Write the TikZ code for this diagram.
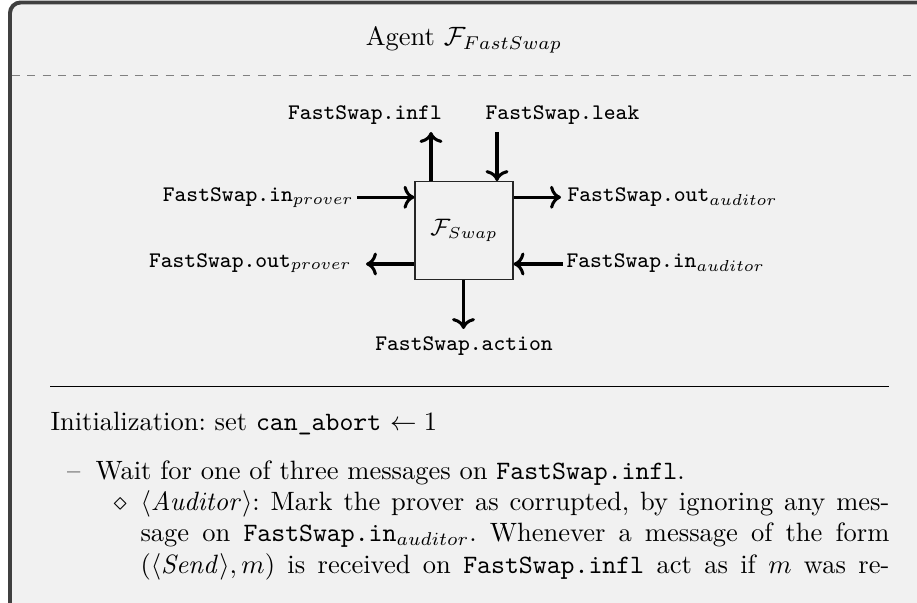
\documentclass[tikz,border=0pt]{standalone}
\usetikzlibrary{arrows.meta}
\definecolor{bgc}{HTML}{F1F1F1}
\definecolor{framec}{HTML}{404040}
\tikzset{
  lab/.style={font=\fontsize{8.4pt}{10pt}\selectfont, inner sep=0pt},
  arr/.style={->, line width=1.15pt},
  body/.style={font=\fontsize{10pt}{12pt}\selectfont\frenchspacing, inner sep=0pt, anchor=base west},
  swbox/.style={draw=black!85, line width=0.4pt, fill=bgc, minimum width=36.98pt, minimum height=36.98pt, inner sep=0pt, font=\fontsize{9pt}{11pt}\selectfont},
}
\begin{document}
\begin{tikzpicture}[x=0.37736pt,y=-0.37736pt]
\useasboundingbox (0,0) rectangle (917,603);
\begin{scope}
\clip (0,0) rectangle (917,603);
\fill[white] (0,0) rectangle (917,603);
\draw[framec, line width=1.5pt, fill=bgc, rounded corners=4pt] (10,700) -- (10,2.5) -- (1000,2.5) -- (1000,700) -- cycle;
\end{scope}
\draw[black!50, line width=0.6pt, dash pattern=on 3pt off 2.8pt] (12,75.5) -- (917,75.5);
\node[anchor=base, inner sep=0pt, font=\fontsize{10pt}{12pt}\selectfont] (title) at (464,46) {Agent $\mathcal{F}_{FastSwap}$};
% diagram
\node[swbox] (sw) at (464,230.6) {$\mathcal{F}_{Swap}$};
\coordinate (inflend) at (431,132);
\coordinate (leakstart) at (497,132);
\coordinate (inpstart) at (357,197.3);
\coordinate (outpend) at (366,264);
\coordinate (outaend) at (561,197.3);
\coordinate (inastart) at (563,264);
\coordinate (actend) at (463.5,329);
\draw[arr] (sw.north -| inflend) -- (inflend);
\draw[arr] (leakstart) -- (sw.north -| leakstart);
\draw[arr] (inpstart) -- (sw.west |- inpstart);
\draw[arr] (sw.west |- outpend) -- (outpend);
\draw[arr] (sw.east |- outaend) -- (outaend);
\draw[arr] (inastart) -- (sw.east |- inastart);
\draw[arr] (sw.south -| actend) -- (actend);
\node[lab, anchor=base] (infl) at (365,120) {\texttt{FastSwap.infl}};
\node[lab, anchor=base] (leak) at (562.5,120) {\texttt{FastSwap.leak}};
\node[lab, anchor=base east] (inp) at (354,201.7) {\texttt{FastSwap.in}$_{prover}$};
\node[lab, anchor=base east] (outp) at (352,267.3) {\texttt{FastSwap.out}$_{prover}$};
\node[lab, anchor=base west] (outa) at (567,201.7) {\texttt{FastSwap.out}$_{auditor}$};
\node[lab, anchor=base west] (ina) at (566,267.3) {\texttt{FastSwap.in}$_{auditor}$};
\node[lab, anchor=base] (act) at (464,350) {\texttt{FastSwap.action}};
% body
\draw[line width=0.45pt] (50,386.7) -- (889,386.7);
\node[body] (l1) at (50,430) {Initialization: set \texttt{can\_abort} $\leftarrow 1$};
\node[body] (d2) at (66.7,479) {--};
\node[body] (l2) at (95,479) {Wait for one of three messages on \texttt{FastSwap.infl}.};
\node[body] (d3) at (113,510) {$\diamond$};
\node[body] (l3) at (140,510) {\hbox to 282.6pt{$\langle\mathit{Auditor}\rangle$: Mark the prover as corrupted, by ignoring any mes-}};
\node[body] (l4) at (140,541.7) {\hbox to 282.6pt{sage on \texttt{FastSwap.in}$_{auditor}$. Whenever a message of the form}};
\node[body] (l5) at (140,573) {\hbox to 282.6pt{$(\langle\mathit{Send}\rangle, m)$ is received on \texttt{FastSwap.infl} act as if $m$ was re-}};
\end{tikzpicture}
\end{document}
